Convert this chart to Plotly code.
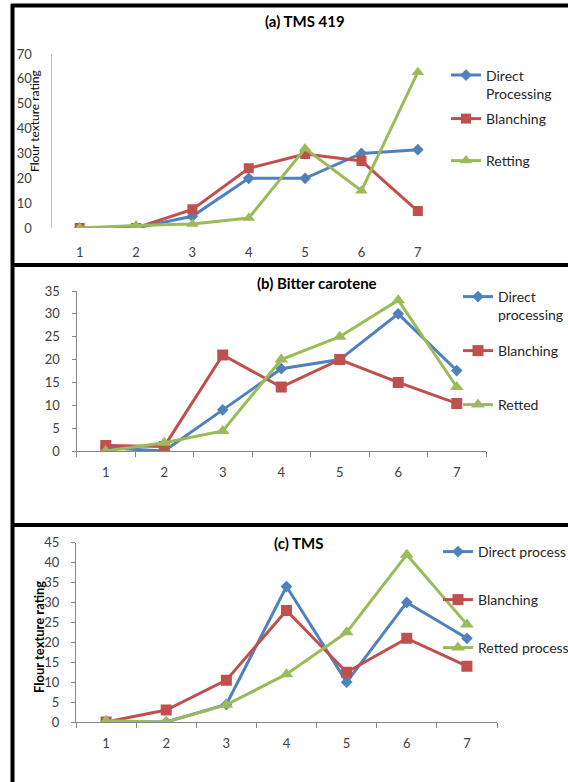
import plotly.graph_objects as go

W, H = 568, 782

categories = ["1", "2", "3", "4", "5", "6", "7"]

# (a) TMS 419
a_direct = [0, 0, 4.7, 20, 20, 30, 31.5]
a_blanching = [0, 0, 7.5, 24, 29.8, 27, 6.8]
a_retting = [0, 1, 1.6, 4, 32, 15, 62.7]

# (b) Bitter carotene
b_direct = [0.7, 0, 9, 18, 20, 30, 17.6]
b_blanching = [1.2, 1, 21, 14, 20, 15, 10.4]
b_retted = [0, 1.8, 4.4, 20, 25, 33, 14]

# (c) TMS
c_direct = [0, 0, 4.4, 34, 10, 30, 21]
c_blanching = [0, 3, 10.5, 28, 12.5, 21, 14]
c_retted = [0.3, 0, 4.3, 12, 22.5, 42, 24.5]

BLUE, RED, GREEN = "#4F81BD", "#C0504D", "#9BBB59"
FONT = "Lato"
TICK_COLOR = "#404040"


def px_x(v):
    return v / W


def px_y(v):
    return 1 - v / H


panels = [
    dict(key="", xdom=(51.5, 446), ydom=(54, 228), yrange=[0, 70], dtick=10,
         series=[(a_direct, "Direct<br>Processing", BLUE, "diamond", 9),
                 (a_blanching, "Blanching", RED, "square", 10),
                 (a_retting, "Retting", GREEN, "triangle-up", 11)],
         legend_x=446, legend_y=[84.5, 119, 161]),
    dict(key="2", xdom=(76.5, 486), ydom=(291, 451), yrange=[0, 35], dtick=5,
         series=[(b_direct, "Direct<br>processing", BLUE, "diamond", 9),
                 (b_blanching, "Blanching", RED, "square", 11),
                 (b_retted, "Retted", GREEN, "triangle-up", 12)],
         legend_x=458, legend_y=[306, 351, 405]),
    dict(key="3", xdom=(76, 497), ydom=(542.7, 722), yrange=[0, 45], dtick=5,
         series=[(c_direct, "Direct process", BLUE, "diamond", 9),
                 (c_blanching, "Blanching", RED, "square", 11),
                 (c_retted, "Retted process", GREEN, "triangle-up", 12)],
         legend_x=438, legend_y=[552, 600, 648]),
]

fig = go.Figure()
layout = {}
legend_idx = 0
for i, p in enumerate(panels):
    k = p["key"]
    for vals, name, color, symbol, msize in p["series"]:
        legend_idx += 1
        lg = "legend" if legend_idx == 1 else f"legend{legend_idx}"
        fig.add_trace(go.Scatter(
            x=categories, y=vals, name=name, mode="lines+markers",
            line=dict(color=color, width=3),
            marker=dict(symbol=symbol, size=msize, color=color),
            xaxis="x" + k, yaxis="y" + k, legend=lg,
        ))
    first = i == 0
    layout["xaxis" + k] = dict(
        domain=[px_x(p["xdom"][0]), px_x(p["xdom"][1])],
        anchor="y" + k, type="category", range=[-0.5, 6.5],
        showgrid=False, zeroline=False,
        showline=not first, linecolor="#868686", linewidth=1,
        ticks="" if first else "outside", tickson="boundaries",
        ticklen=5, tickcolor="#868686",
        ticklabelstandoff=15 if first else 9,
        tickfont=dict(family=FONT, size=13, color=TICK_COLOR),
        fixedrange=True,
    )
    layout["yaxis" + k] = dict(
        domain=[px_y(p["ydom"][1]), px_y(p["ydom"][0])],
        anchor="x" + k, range=p["yrange"], dtick=p["dtick"],
        showgrid=False, zeroline=False,
        showline=True, linecolor="#BFBFBF" if first else "#868686", linewidth=1,
        ticks="" if first else "outside", ticklen=4, tickcolor="#868686",
        ticklabelstandoff=16 if first else 9,
        tickfont=dict(family=FONT, size=13, color=TICK_COLOR),
        fixedrange=True,
    )

# one legend box per series, stacked beside each panel
legend_idx = 0
for p in panels:
    for ly in p["legend_y"]:
        legend_idx += 1
        lg = "legend" if legend_idx == 1 else f"legend{legend_idx}"
        layout[lg] = dict(
            x=px_x(p["legend_x"]), y=px_y(ly), xanchor="left", yanchor="middle",
            xref="paper", yref="paper", bgcolor="rgba(0,0,0,0)",
            borderwidth=0, valign="top", itemclick=False, itemdoubleclick=False,
            font=dict(family=FONT, size=14, color="#262626"),
        )

annotations = [
    dict(text="<b>(a) TMS 419</b>", x=px_x(305), y=px_y(21)),
    dict(text="<b>(b) Bitter carotene</b>", x=px_x(317), y=px_y(283)),
    dict(text="<b>(c) TMS</b>", x=px_x(298), y=px_y(543)),
]
for a in annotations:
    a.update(xref="paper", yref="paper", showarrow=False, xanchor="center",
             yanchor="middle", font=dict(family=FONT, size=15, color="black"))

annotations += [
    dict(text="Flour texture rating", x=px_x(35), y=px_y(121), textangle=-90,
         xref="paper", yref="paper", showarrow=False, xanchor="center", yanchor="middle",
         font=dict(family=FONT, size=12, color="black")),
    dict(text="<b>Flour texture rating</b>", x=px_x(39), y=px_y(637), textangle=-90,
         xref="paper", yref="paper", showarrow=False, xanchor="center", yanchor="middle",
         font=dict(family=FONT, size=13, color="black")),
]

# black frame around and between the panels
frame = dict(xref="paper", yref="paper", type="line", line=dict(color="black", width=4))
shapes = [
    dict(x0=px_x(11), x1=1.01, y0=px_y(5.5), y1=px_y(5.5), **frame),
    dict(x0=px_x(12.5), x1=px_x(12.5), y0=px_y(4), y1=-0.01, **frame),
    dict(x0=px_x(11), x1=1.01, y0=px_y(265), y1=px_y(265), **frame),
    dict(x0=px_x(11), x1=1.01, y0=px_y(525), y1=px_y(525), **frame),
]

fig.update_layout(
    width=W, height=H,
    margin=dict(l=0, r=0, t=0, b=0, autoexpand=False),
    paper_bgcolor="white", plot_bgcolor="white",
    showlegend=True, annotations=annotations, shapes=shapes,
    **layout,
)

fig.write_html("out.html", config={"displayModeBar": False})
